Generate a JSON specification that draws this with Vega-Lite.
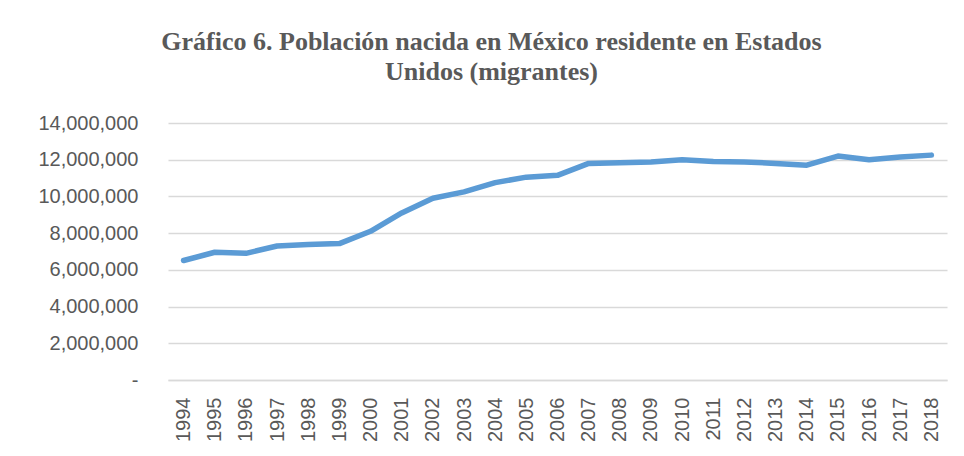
{
  "$schema": "https://vega.github.io/schema/vega-lite/v6.json",
  "width": 779,
  "height": 257,
  "autosize": {"type": "none"},
  "padding": {"left": 168, "top": 123, "right": 17, "bottom": 76},
  "background": "white",
  "title": {
    "text": ["Gráfico 6. Población nacida en México residente en Estados", "Unidos (migrantes)"],
    "font": "Liberation Serif",
    "fontSize": 26,
    "fontWeight": "bold",
    "color": "#595959",
    "anchor": "middle",
    "dx": -66,
    "offset": 28,
    "lineHeight": 30
  },
  "config": {
    "view": {"stroke": null},
    "axis": {
      "labelFont": "Liberation Sans",
      "labelFontSize": 20,
      "labelColor": "#595959",
      "ticks": false,
      "title": null
    }
  },
  "data": {
    "values": [
      {"year": "1994", "pop": 6510000},
      {"year": "1995", "pop": 6960000},
      {"year": "1996", "pop": 6900000},
      {"year": "1997", "pop": 7300000},
      {"year": "1998", "pop": 7380000},
      {"year": "1999", "pop": 7430000},
      {"year": "2000", "pop": 8100000},
      {"year": "2001", "pop": 9100000},
      {"year": "2002", "pop": 9900000},
      {"year": "2003", "pop": 10250000},
      {"year": "2004", "pop": 10750000},
      {"year": "2005", "pop": 11050000},
      {"year": "2006", "pop": 11150000},
      {"year": "2007", "pop": 11800000},
      {"year": "2008", "pop": 11840000},
      {"year": "2009", "pop": 11870000},
      {"year": "2010", "pop": 12000000},
      {"year": "2011", "pop": 11900000},
      {"year": "2012", "pop": 11880000},
      {"year": "2013", "pop": 11800000},
      {"year": "2014", "pop": 11700000},
      {"year": "2015", "pop": 12200000},
      {"year": "2016", "pop": 12000000},
      {"year": "2017", "pop": 12150000},
      {"year": "2018", "pop": 12250000}
    ]
  },
  "mark": {"type": "line", "color": "#5B9BD5", "strokeWidth": 5.5, "strokeCap": "round", "strokeJoin": "round"},
  "encoding": {
    "x": {
      "field": "year",
      "type": "ordinal",
      "scale": {"type": "point", "padding": 0.5},
      "axis": {
        "labelAngle": -90,
        "labelPadding": 17,
        "domain": true,
        "domainColor": "#D9D9D9",
        "domainWidth": 1.5,
        "grid": false
      }
    },
    "y": {
      "field": "pop",
      "type": "quantitative",
      "scale": {"domain": [0, 14000000], "nice": false},
      "axis": {
        "values": [0, 2000000, 4000000, 6000000, 8000000, 10000000, 12000000, 14000000],
        "labelExpr": "datum.value === 0 ? '-\u00a0\u00a0\u00a0\u00a0\u00a0\u00a0\u00a0\u00a0\u00a0\u00a0\u00a0\u00a0\u00a0\u00a0\u00a0' : format(datum.value, ',')",
        "labelPadding": 30,
        "domain": false,
        "grid": true,
        "gridColor": "#D9D9D9",
        "gridWidth": 1.5
      }
    }
  }
}
